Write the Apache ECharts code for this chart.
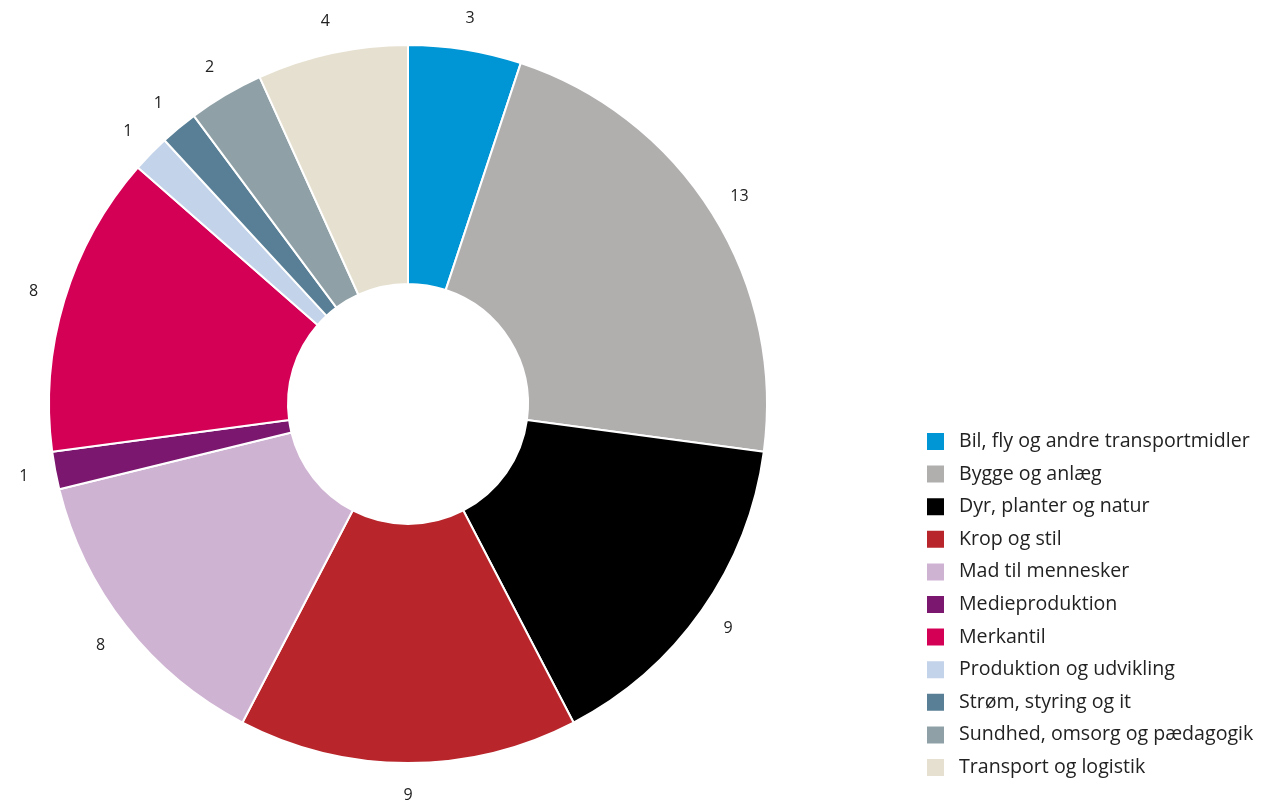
<!DOCTYPE html>
<html>
<head>
<meta charset="utf-8">
<script src="https://cdn.jsdelivr.net/npm/echarts@6/dist/echarts.min.js"></script>
<style>html,body{margin:0;padding:0;background:#fff}#c{width:1261px;height:804px}</style>
</head>
<body>
<div id="c"></div>
<script>
const categories = ["Bil, fly og andre transportmidler","Bygge og anlæg","Dyr, planter og natur","Krop og stil","Mad til mennesker","Medieproduktion","Merkantil","Produktion og udvikling","Strøm, styring og it","Sundhed, omsorg og pædagogik","Transport og logistik"];
const values = [3,13,9,9,8,1,8,1,1,2,4];
const colors = ["#0095d5","#b1aeae","#000000","#b8262b","#cfb3d3","#7b176f","#d40056","#c3d3ea","#587f96","#8fa1a7","#e6e0d0"];

const chart = echarts.init(document.getElementById('c'));
const data = categories.map((n, i) => ({name: n, value: values[i]}));
chart.setOption({
  animation: false,
  color: colors,
  textStyle: {fontFamily: "Open Sans"},
  legend: {
    orient: 'vertical',
    left: 925,
    top: 431,
    height: 380,
    padding: 0,
    itemWidth: 19,
    itemHeight: 19,
    itemGap: 11.6,
    icon: 'rect',
    data: categories,
    textStyle: {fontSize: 19.6, color: '#222', fontFamily: 'Open Sans', padding: [0,0,0,9]}
  },
  series: [{
    type: 'pie',
    center: [408, 404],
    radius: [120, 359],
    startAngle: 90,
    clockwise: true,
    avoidLabelOverlap: false,
    itemStyle: {borderColor: '#fff', borderWidth: 2},
    label: {show: false},
    labelLine: {show: false},
    emphasis: {disabled: true},
    data: data
  }, {
    type: 'pie',
    center: [408, 404],
    radius: [376, 400],
    startAngle: 90,
    clockwise: true,
    silent: true,
    avoidLabelOverlap: false,
    itemStyle: {color: 'rgba(0,0,0,0)', borderWidth: 0},
    label: {show: true, position: 'inside', formatter: '{c}', fontSize: 16, color: '#222', fontFamily: 'Open Sans'},
    labelLine: {show: false},
    emphasis: {disabled: true},
    data: data
  }]
});
</script>
</body>
</html>
